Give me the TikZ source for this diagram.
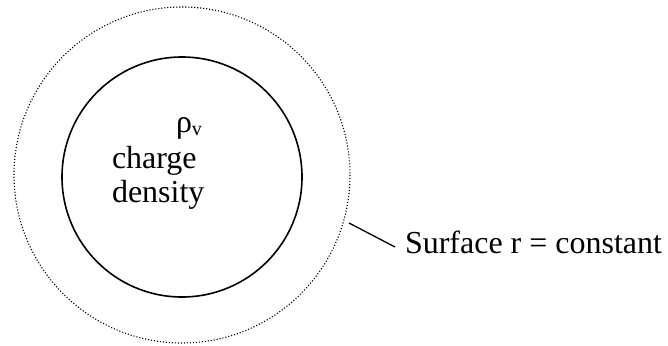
\documentclass[tikz,border=0pt]{standalone}
\usepackage{fontspec}
\setmainfont{Liberation Serif}
\begin{document}
\begin{tikzpicture}[x=1pt,y=-1pt,
  lbl/.style={inner sep=0pt,outer sep=0pt,anchor=base west,font=\fontsize{32}{34}\selectfont},
  surf/.style={line width=1.1pt,dash pattern=on 1.1pt off 1.9pt},
  body/.style={line width=1.6pt}]
\useasboundingbox (0,0) rectangle (668,345);
\draw[surf] (182,175) circle[radius=168];
\draw[body] (182,177) circle[radius=120];
\node[lbl] (rho) at (176,132) {ρ\raisebox{-3pt}{\fontsize{20}{20}\selectfont v}};
\node[lbl] (charge) at (112,168) {charge};
\node[lbl] (density) at (112,202) {density};
\node[lbl] (surface) at (405,253) {Surface r = constant};
\coordinate (lead) at (349,223);
\draw[line width=1.3pt] (lead) -- ([shift={(-10,-6)}]surface.base west);
\end{tikzpicture}
\end{document}
